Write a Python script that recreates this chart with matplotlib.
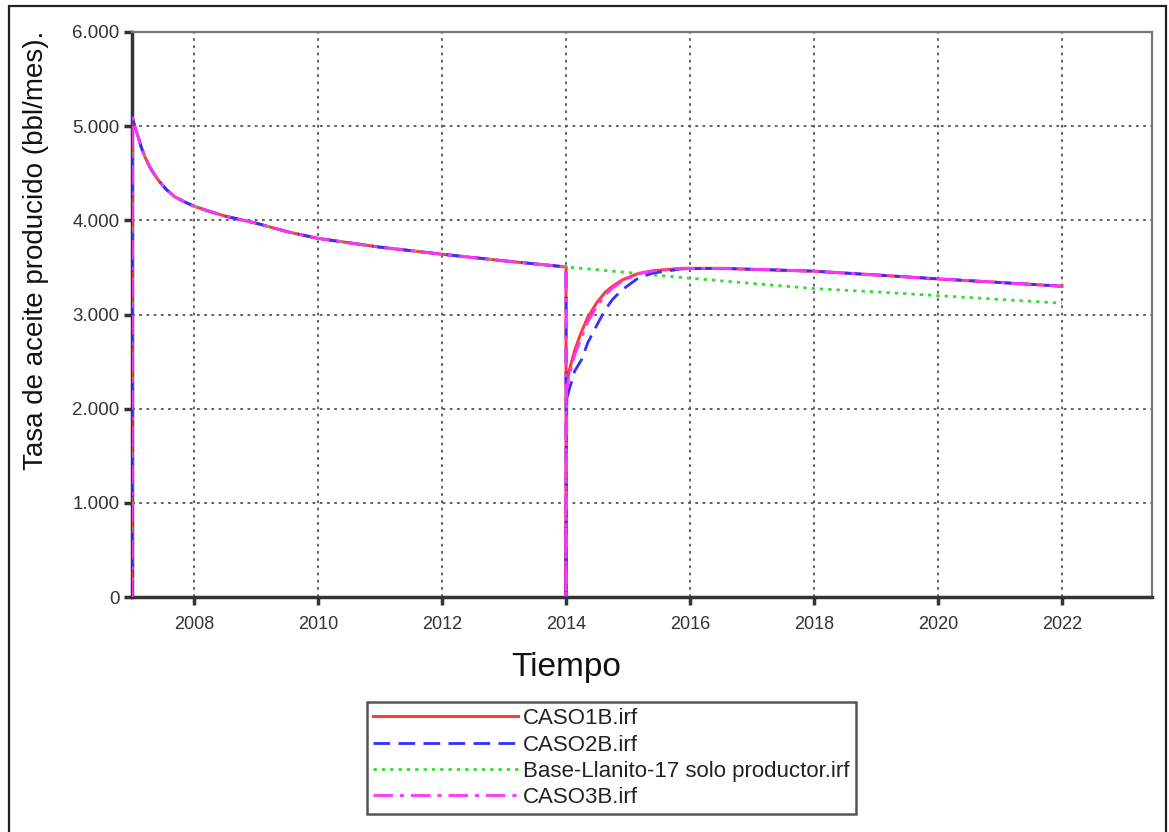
import matplotlib
matplotlib.use("Agg")
import matplotlib.pyplot as plt
from matplotlib.patches import Rectangle
from matplotlib.ticker import FuncFormatter, FixedLocator

# ---- data (decimal years, bbl/mes) ----
hist_t = [2007.0, 2007.005, 2007.05, 2007.1, 2007.15, 2007.21, 2007.3, 2007.42, 2007.55,
          2007.69, 2007.85, 2008.0, 2008.25, 2008.5, 2009.0, 2009.5, 2010.0, 2011.0,
          2012.0, 2013.0, 2014.0]
hist_q = [0, 5090, 4985, 4885, 4775, 4672, 4550, 4430, 4330, 4250, 4195, 4150, 4095, 4045,
          3970, 3880, 3808, 3715, 3640, 3570, 3505]

base_t = [2015.0, 2016.0, 2017.0, 2018.0, 2019.0, 2020.0, 2021.0, 2022.0]
base_q = [3445, 3385, 3330, 3275, 3240, 3200, 3160, 3120]

rec_t = [2014.0, 2014.0, 2014.01, 2014.05, 2014.14, 2014.25, 2014.35, 2014.5, 2014.63,
         2014.75, 2014.9, 2015.16, 2015.4, 2015.87]
caso1_q = [3505, 0, 2250, 2400, 2620, 2820, 2970, 3130, 3235, 3300, 3365, 3435, 3465, 3490]
caso2_q = [3505, 0, 2100, 2200, 2400, 2520, 2700, 2890, 3050, 3160, 3260, 3385, 3440, 3485]
caso3_q = [3505, 0, 2200, 2350, 2570, 2760, 2920, 3090, 3205, 3280, 3350, 3430, 3462, 3490]

late_t = [2016.5, 2017.0, 2018.0, 2019.0, 2020.0, 2021.0, 2022.0]
late_q = [3490, 3480, 3460, 3420, 3378, 3340, 3300]

labels = ["CASO1B.irf", "CASO2B.irf", "Base-Llanito-17 solo productor.irf", "CASO3B.irf"]
x_ticks = [2008, 2010, 2012, 2014, 2016, 2018, 2020, 2022]
y_ticks = [0, 1000, 2000, 3000, 4000, 5000, 6000]

plt.rcParams['font.family'] = ['Liberation Sans', 'DejaVu Sans']

fig = plt.figure(figsize=(11.69, 8.32), dpi=100)
ax = fig.add_axes([132/1169, 1 - 597/832, (1152-132)/1169, (597-32)/832])

# outer border of the figure
fig.patches.append(Rectangle((9/1169, -0.01), 1157/1169, 1.01 - 6/832, transform=fig.transFigure,
                             fill=False, edgecolor='#222222', linewidth=1.6, zorder=0))

def case_series(q):
    return hist_t + rec_t[1:] + late_t, hist_q + q[1:] + late_q

t1, q1 = case_series(caso1_q)
t2, q2 = case_series(caso2_q)
t3, q3 = case_series(caso3_q)
tb = hist_t + base_t
qb = hist_q + base_q

ax.plot(t1, q1, color='#FF3B3B', lw=2.2, ls='-', label=labels[0], zorder=3)
ax.plot(t2, q2, color='#3030FF', lw=2.0, ls=(0, (6, 3)), label=labels[1], zorder=4)
ax.plot(tb, qb, color='#33DD33', lw=2.0, ls=(0, (1.2, 1.8)), label=labels[2], zorder=3)
ax.plot(t3, q3, color='#FF33FF', lw=2.0, ls=(0, (7, 2.5, 1.5, 2.5)), label=labels[3], zorder=5)

ax.set_xlim(2007.0, 2023.45)
ax.set_ylim(0, 6000)
ax.xaxis.set_major_locator(FixedLocator(x_ticks))
ax.yaxis.set_major_locator(FixedLocator(y_ticks))
ax.yaxis.set_major_formatter(FuncFormatter(lambda v, p: f"{int(v):,}".replace(",", ".")))

ax.grid(True, color='#555555', ls=(0, (1.5, 2.5)), lw=1.3)
for s in ['left', 'bottom']:
    ax.spines[s].set_color('#333333')
    ax.spines[s].set_linewidth(2.5)
for s in ['top', 'right']:
    ax.spines[s].set_color('#777777')
    ax.spines[s].set_linewidth(1.6)
ax.tick_params(axis='both', direction='out', length=6, width=2.5, color='#333333',
               labelsize=13.5, labelcolor='#333333', pad=3)
ax.tick_params(axis='x', labelsize=13, pad=8)

ax.set_xlabel("Tiempo", fontsize=24, color='#111111')
ax.xaxis.set_label_coords((2014.0 - 2007.0) / (2023.45 - 2007.0), -0.098)
ax.set_ylabel("Tasa de aceite producido (bbl/mes).", fontsize=20, color='#111111')
ax.yaxis.set_label_coords(-0.081, 0.614)

leg = fig.legend(loc='upper left', bbox_to_anchor=(367/1169, 1 - 702/832), fontsize=16,
                 frameon=True, fancybox=False, edgecolor='#555555', framealpha=1,
                 handlelength=6.5, handletextpad=0.25, labelspacing=0.24, borderpad=0.28,
                 borderaxespad=0)
leg.get_frame().set_linewidth(1.8)
for txt in leg.get_texts():
    txt.set_color('#222222')

fig.savefig("out.png", dpi=100)
